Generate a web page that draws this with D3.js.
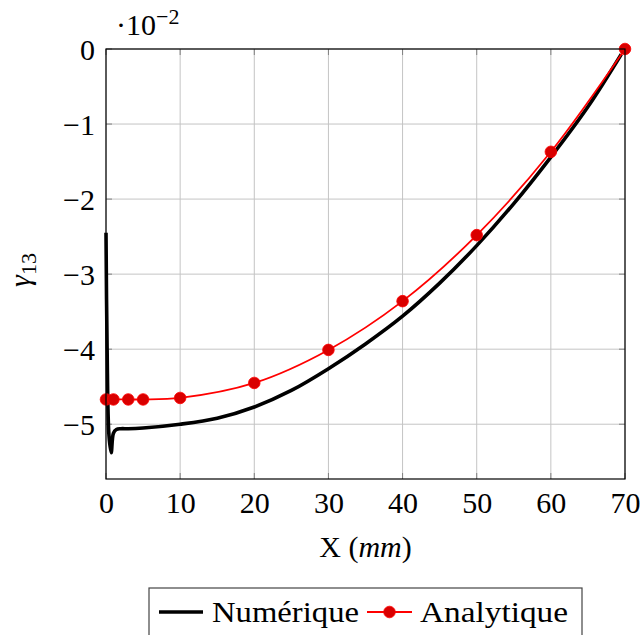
<!DOCTYPE html>
<html>
<head>
<meta charset="utf-8">
<script src="https://cdn.jsdelivr.net/npm/d3@7/dist/d3.min.js"></script>
<style>
  html, body { margin: 0; padding: 0; background: #fff; }
  svg text { font-family: "Liberation Serif", "DejaVu Serif", serif; fill: #000; }
</style>
</head>
<body>
<svg id="chart" width="642" height="635"></svg>
<script>
// Shear strain gamma_13 along X (values in units of 1e-2)
const numX = [0, 0.15, 0.4, 0.7, 1.0, 1.4, 2, 3, 5, 10, 15, 20, 25, 30, 35, 40, 45, 50, 55, 60, 65, 69.5];
const numY = [-2.45, -4.0, -5.15, -5.38, -5.12, -5.07, -5.06, -5.06, -5.05, -5.0, -4.92, -4.77, -4.55, -4.26, -3.93, -3.56, -3.12, -2.62, -2.06, -1.44, -0.77, -0.07];

const anaX = [0, 1, 3, 5, 10, 20, 30, 40, 50, 60, 70];
const anaY = [-4.67, -4.67, -4.67, -4.67, -4.65, -4.45, -4.01, -3.36, -2.48, -1.37, 0];

const xTicks = [0, 10, 20, 30, 40, 50, 60, 70];
const yTicks = [0, -1, -2, -3, -4, -5];

const seriesNames = ["Numérique", "Analytique"];

const svg = d3.select("#chart");
const m = { left: 106, right: 625, top: 49, bottom: 479 };

const x = d3.scaleLinear().domain([0, 70]).range([m.left, m.right]);
const y = d3.scaleLinear().domain([-5.73, 0]).range([m.bottom, m.top]);

const fs = 30;

// grid
const grid = svg.append("g");
grid.selectAll("line.gx").data(xTicks).enter().append("line")
  .attr("x1", d => x(d)).attr("x2", d => x(d))
  .attr("y1", m.top).attr("y2", m.bottom)
  .attr("stroke", "#c4c4c4").attr("stroke-width", 1);
grid.selectAll("line.gy").data(yTicks).enter().append("line")
  .attr("x1", m.left).attr("x2", m.right)
  .attr("y1", d => y(d)).attr("y2", d => y(d))
  .attr("stroke", "#c4c4c4").attr("stroke-width", 1);

// inner tick marks on all four sides
const tl = 6;
const ticks = svg.append("g").attr("stroke", "#808080").attr("stroke-width", 1);
xTicks.forEach(d => {
  ticks.append("line").attr("x1", x(d)).attr("x2", x(d)).attr("y1", m.bottom).attr("y2", m.bottom - tl);
  ticks.append("line").attr("x1", x(d)).attr("x2", x(d)).attr("y1", m.top).attr("y2", m.top + tl);
});
yTicks.forEach(d => {
  ticks.append("line").attr("x1", m.left).attr("x2", m.left + tl).attr("y1", y(d)).attr("y2", y(d));
  ticks.append("line").attr("x1", m.right).attr("x2", m.right - tl).attr("y1", y(d)).attr("y2", y(d));
});

// tick labels via d3 axes (domain/tick lines hidden)
const xAxis = svg.append("g").attr("transform", `translate(0,${m.bottom})`)
  .call(d3.axisBottom(x).tickValues(xTicks).tickSize(0).tickPadding(11).tickFormat(d3.format("d")));
xAxis.select(".domain").remove();
xAxis.selectAll("text").attr("font-size", fs).attr("font-family", "Liberation Serif").attr("dy", "0.75em");

const minus = d => (d < 0 ? "\u2212" + Math.abs(d) : String(d));
const yAxis = svg.append("g").attr("transform", `translate(${m.left},0)`)
  .call(d3.axisLeft(y).tickValues(yTicks).tickSize(0).tickPadding(11).tickFormat(minus));
yAxis.select(".domain").remove();
yAxis.selectAll("text").attr("font-size", fs).attr("font-family", "Liberation Serif").attr("dy", "0.34em");

// curves
const numData = numX.map((v, i) => [v, numY[i]]);
const anaData = anaX.map((v, i) => [v, anaY[i]]);

const line = d3.line().x(d => x(d[0])).y(d => y(d[1])).curve(d3.curveCatmullRom.alpha(0.5));

svg.append("path").datum(numData)
  .attr("d", line).attr("fill", "none").attr("stroke", "#000")
  .attr("stroke-width", 3.6).attr("stroke-linejoin", "round");

svg.append("path").datum(anaData)
  .attr("d", line).attr("fill", "none").attr("stroke", "#ff0000").attr("stroke-width", 1.8);

svg.append("g").selectAll("circle").data(anaData).enter().append("circle")
  .attr("cx", d => x(d[0])).attr("cy", d => y(d[1])).attr("r", 5.8)
  .attr("fill", "#d90000").attr("stroke", "#ff0000").attr("stroke-width", 0.8);

// frame
svg.append("rect").attr("x", m.left).attr("y", m.top)
  .attr("width", m.right - m.left).attr("height", m.bottom - m.top)
  .attr("fill", "none").attr("stroke", "#000").attr("stroke-width", 1.2);

// scale factor above the axis
const sc = svg.append("text").attr("x", 116).attr("y", 35).attr("font-size", fs);
sc.append("tspan").text("\u00b710");
sc.append("tspan").attr("font-size", 22).attr("dy", -11).text("\u22122");

// x label
const xl = svg.append("text").attr("x", (m.left + m.right) / 2).attr("y", 557)
  .attr("text-anchor", "middle").attr("font-size", fs);
xl.append("tspan").text("X (");
xl.append("tspan").attr("font-style", "italic").text("mm");
xl.append("tspan").text(")");

// y label
const yl = svg.append("text")
  .attr("transform", `translate(30,${(m.top + m.bottom) / 2 + 6}) rotate(-90)`)
  .attr("text-anchor", "middle").attr("font-size", fs);
yl.append("tspan").attr("font-style", "italic").text("\u03b3");
yl.append("tspan").attr("font-size", 22).attr("dy", 6).text("13");

// legend
const lg = svg.append("g");
lg.append("rect").attr("x", 149).attr("y", 588).attr("width", 433).attr("height", 60)
  .attr("fill", "#fff").attr("stroke", "#444").attr("stroke-width", 1.2);
const ly = 612;
lg.append("line").attr("x1", 159).attr("x2", 203).attr("y1", ly).attr("y2", ly)
  .attr("stroke", "#000").attr("stroke-width", 3.6);
lg.append("text").attr("x", 212).attr("y", ly + 10).attr("font-size", fs)
  .attr("textLength", 147).attr("lengthAdjust", "spacingAndGlyphs").text(seriesNames[0]);
lg.append("line").attr("x1", 367).attr("x2", 412).attr("y1", ly).attr("y2", ly)
  .attr("stroke", "#ff0000").attr("stroke-width", 1.8);
lg.append("circle").attr("cx", 389.5).attr("cy", ly).attr("r", 5.8)
  .attr("fill", "#d90000").attr("stroke", "#ff0000").attr("stroke-width", 0.8);
lg.append("text").attr("x", 420).attr("y", ly + 10).attr("font-size", fs)
  .attr("textLength", 148).attr("lengthAdjust", "spacingAndGlyphs").text(seriesNames[1]);
</script>
</body>
</html>
